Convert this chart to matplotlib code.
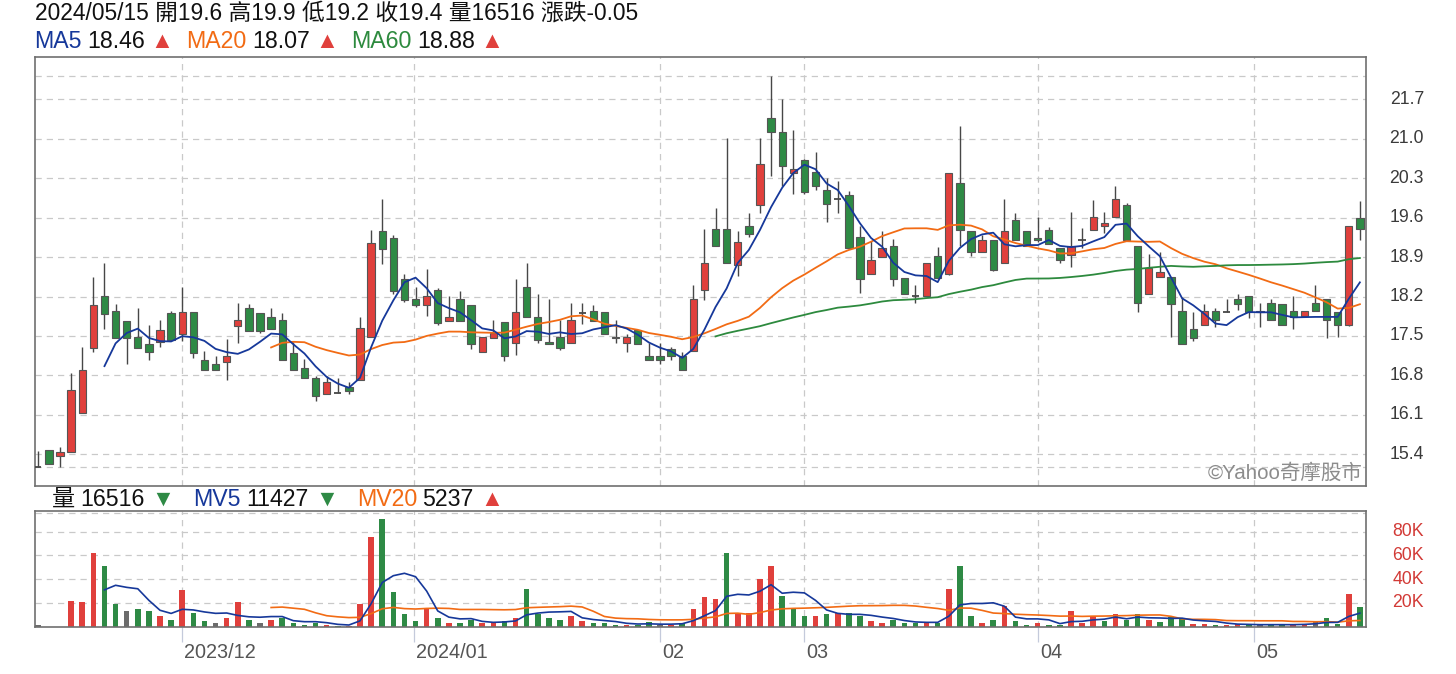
import numpy as np
import pandas as pd
import matplotlib
matplotlib.use("Agg")
import matplotlib.pyplot as plt
import matplotlib.transforms as mtransforms
from matplotlib.patches import Rectangle

# ---------------- daily quotes (TWD) ----------------
opens = [
    15.18, 15.47, 15.37, 15.43, 16.13, 17.29, 18.21, 17.94, 17.76, 17.49,
    17.36, 17.39, 17.91, 17.54, 17.93, 17.08, 17.00, 17.04, 17.68, 18.00,
    17.90, 17.84, 17.79, 17.20, 16.93, 16.75, 16.47, 16.48, 16.60, 16.72,
    17.48, 19.36, 19.24, 18.51, 18.15, 18.05, 18.31, 17.77, 18.15, 18.05,
    17.22, 17.47, 17.75, 17.38, 18.37, 17.84, 17.39, 17.49, 17.38, 17.90,
    17.94, 17.93, 17.49, 17.38, 17.61, 17.15, 17.15, 17.26, 17.14, 17.23,
    18.31, 19.40, 19.40, 18.76, 19.46, 19.82, 21.37, 21.13, 20.40, 20.62,
    20.41, 20.10, 19.93, 20.01, 19.26, 18.60, 18.91, 19.10, 18.53, 18.21,
    18.21, 18.92, 18.60, 20.22, 19.37, 18.99, 19.21, 18.79, 19.56, 19.37,
    19.24, 19.38, 19.07, 18.94, 19.21, 19.39, 19.45, 19.61, 19.83, 19.10,
    18.24, 18.54, 18.55, 17.94, 17.63, 17.69, 17.94, 17.92, 18.15, 18.21,
    17.94, 18.09, 18.06, 17.94, 17.86, 18.09, 18.15, 17.92, 17.69, 19.60,
]
highs = [
    15.46, 15.47, 15.53, 16.85, 17.30, 18.54, 18.79, 18.06, 17.76, 18.00,
    17.70, 17.78, 17.94, 18.37, 17.93, 17.23, 17.14, 17.45, 18.09, 18.06,
    17.90, 18.00, 17.91, 17.39, 17.09, 16.79, 16.78, 16.75, 16.69, 17.84,
    19.39, 19.94, 19.30, 18.60, 18.37, 18.69, 18.35, 18.21, 18.30, 18.05,
    17.48, 17.78, 17.75, 18.51, 18.79, 18.25, 18.16, 17.78, 18.09, 18.09,
    18.05, 17.93, 17.78, 17.54, 17.61, 17.37, 17.37, 17.31, 17.22, 18.40,
    19.40, 19.77, 21.02, 19.37, 19.68, 21.02, 22.12, 21.71, 21.15, 20.65,
    20.77, 20.31, 20.26, 20.07, 19.46, 19.18, 19.37, 19.22, 18.53, 18.41,
    18.79, 19.08, 20.40, 21.23, 19.37, 19.29, 19.21, 19.94, 19.68, 19.37,
    19.62, 19.43, 19.07, 19.71, 19.41, 19.91, 19.71, 20.16, 19.86, 19.10,
    18.95, 18.99, 18.55, 18.19, 17.92, 18.06, 18.00, 18.15, 18.25, 18.21,
    18.09, 18.15, 18.06, 18.21, 17.94, 18.40, 18.15, 17.92, 19.45, 19.90,
]
lows = [
    15.18, 15.22, 15.17, 15.43, 16.13, 17.22, 17.62, 17.46, 17.00, 17.29,
    17.07, 17.31, 17.43, 17.41, 17.10, 16.90, 16.90, 16.71, 17.38, 17.58,
    17.55, 17.62, 17.07, 16.90, 16.76, 16.35, 16.47, 16.48, 16.46, 16.72,
    17.48, 18.77, 18.25, 18.10, 18.01, 17.86, 17.70, 17.77, 17.77, 17.26,
    17.22, 17.47, 17.06, 17.17, 17.83, 17.37, 17.35, 17.25, 17.38, 17.71,
    17.77, 17.54, 17.38, 17.22, 17.35, 17.08, 17.00, 17.08, 16.90, 17.23,
    18.13, 19.09, 18.79, 18.57, 19.26, 19.69, 20.34, 20.17, 20.03, 20.03,
    20.10, 19.53, 19.69, 19.06, 18.26, 18.60, 18.91, 18.39, 18.24, 18.09,
    18.19, 18.51, 18.58, 19.09, 18.92, 18.99, 18.66, 18.79, 19.21, 19.10,
    19.17, 19.13, 18.80, 18.73, 19.07, 19.39, 19.32, 19.61, 19.21, 17.93,
    18.24, 18.54, 17.49, 17.35, 17.41, 17.69, 17.65, 17.92, 17.96, 17.81,
    17.65, 17.78, 17.69, 17.63, 17.86, 17.94, 17.47, 17.49, 17.67, 19.20,
]
closes = [
    15.18, 15.22, 15.44, 16.54, 16.90, 18.05, 17.89, 17.46, 17.46, 17.29,
    17.22, 17.61, 17.43, 17.93, 17.19, 16.90, 16.90, 17.14, 17.78, 17.58,
    17.58, 17.63, 17.07, 16.90, 16.76, 16.44, 16.69, 16.48, 16.53, 17.64,
    19.15, 19.05, 18.29, 18.14, 18.05, 18.21, 17.73, 17.84, 17.77, 17.35,
    17.48, 17.55, 17.14, 17.93, 17.83, 17.43, 17.35, 17.28, 17.78, 17.90,
    17.77, 17.54, 17.47, 17.48, 17.35, 17.08, 17.08, 17.14, 16.90, 18.15,
    18.79, 19.09, 18.79, 19.16, 19.31, 20.56, 21.12, 20.51, 20.47, 20.05,
    20.16, 19.85, 19.93, 19.06, 18.51, 18.85, 19.07, 18.51, 18.24, 18.21,
    18.79, 18.53, 20.40, 19.39, 18.99, 19.21, 18.68, 19.37, 19.21, 19.10,
    19.21, 19.13, 18.85, 19.10, 19.21, 19.61, 19.51, 19.94, 19.21, 18.09,
    18.70, 18.64, 18.06, 17.35, 17.47, 17.94, 17.78, 17.92, 18.06, 17.92,
    17.92, 17.78, 17.69, 17.84, 17.94, 17.94, 17.78, 17.69, 19.45, 19.40,
]
# traded volume, thousands of shares
volumes_k = [
    1.4, 0.0, 0.0, 21.9, 20.5, 62.0, 50.8, 19.1, 13.2, 14.6,
    13.2, 9.0, 5.9, 30.6, 11.8, 4.8, 3.1, 7.3, 20.5, 5.9,
    3.1, 5.9, 7.3, 3.1, 1.7, 3.1, 1.7, 0.3, 0.3, 19.1,
    75.2, 90.9, 29.2, 10.4, 4.8, 14.6, 7.3, 3.1, 3.1, 5.9,
    3.1, 3.1, 4.8, 7.3, 31.7, 10.4, 7.3, 5.9, 9.0, 4.8,
    3.1, 3.1, 1.7, 1.7, 1.7, 3.9, 1.7, 1.7, 3.4, 14.6,
    24.7, 23.3, 62.0, 11.8, 11.8, 40.4, 50.8, 26.1, 16.0, 9.0,
    9.0, 10.4, 11.8, 11.8, 9.0, 4.8, 3.1, 5.9, 3.1, 3.1,
    3.1, 3.1, 31.7, 50.8, 9.0, 3.1, 5.9, 17.4, 4.8, 1.7,
    3.1, 1.7, 1.7, 13.2, 3.1, 9.0, 4.8, 10.4, 5.9, 10.4,
    6.0, 4.0, 8.5, 7.0, 2.6, 2.6, 1.5, 1.5, 2.6, 1.5,
    1.5, 1.5, 1.5, 2.6, 2.6, 4.2, 7.0, 1.9, 27.5, 16.516,
]

price_ticks = [15.4, 16.1, 16.8, 17.5, 18.2, 18.9, 19.6, 20.3, 21.0, 21.7]
volume_ticks = [20, 40, 60, 80]
volume_tick_labels = ["20K", "40K", "60K", "80K"]
# session index where each month begins
month_pos = [13, 33.85, 56, 69, 90, 109.45]
month_labels = ["2023/12", "2024/01", "02", "03", "04", "05"]

header_text = "2024/05/15 開19.6 高19.9 低19.2 收19.4 量16516 漲跌-0.05"
ma_legend = [("MA5", "18.46", "▲"), ("MA20", "18.07", "▲"), ("MA60", "18.88", "▲")]
vol_legend = [("量", "16516", "▼"), ("MV5", "11427", "▼"), ("MV20", "5237", "▲")]
watermark = "©Yahoo奇摩股市"

# ---------------- style ----------------
FAM = ["Liberation Sans", "Noto Sans CJK TC", "DejaVu Sans"]
plt.rcParams["font.family"] = FAM

RED = "#e0403c"
GREEN = "#2e8a45"
GRAY = "#6c6c6c"
BLUE = "#16389a"
ORANGE = "#f26b14"
MGREEN = "#2d8a3e"
GRID = "#c9c9c9"
FRAME = "#707070"
WICK = "#474747"
EDGE = "#555555"

W, H = 1456, 674
fig = plt.figure(figsize=(W / 100, H / 100), dpi=100)


def rect(x0, y0, x1, y1):
    return [x0 / W, 1 - y1 / H, (x1 - x0) / W, (y1 - y0) / H]


ax = fig.add_axes(rect(34.7, 56.7, 1366, 485.7))
axv = fig.add_axes(rect(34.7, 511, 1366, 626.7))

o = np.array(opens)
hi = np.array(highs)
lo = np.array(lows)
c = np.array(closes)
v = np.array(volumes_k)
n = len(c)
x = np.arange(n)


def trailing_mean(values, window, first=2):
    s = pd.Series(values, dtype=float)
    out = pd.Series(np.nan, index=s.index)
    out.iloc[first:] = s.iloc[first:].rolling(window).mean()
    return out.to_numpy()


XMIN, XMAX = -0.28, 119.55

# ---------------- price panel ----------------
dash = dict(color=GRID, lw=0.9, dashes=(5, 4), zorder=0)
for t in price_ticks + [hi.max(), lo.min()]:
    ax.axhline(t, **dash)
for m in month_pos:
    ax.axvline(m, **dash)

ax.vlines(x, lo, hi, colors=WICK, lw=1.0, zorder=2)
bw = 0.66
for i in range(n):
    if c[i] == o[i]:
        ax.hlines(c[i], i - bw / 2, i + bw / 2, colors=WICK, lw=1.3, zorder=3)
        continue
    col = RED if c[i] > o[i] else GREEN
    ax.add_patch(Rectangle((i - bw / 2, min(o[i], c[i])), bw, abs(c[i] - o[i]),
                           facecolor=col, edgecolor=EDGE, lw=0.8, zorder=3))

ax.plot(x, trailing_mean(c, 5), color=BLUE, lw=1.3, zorder=5)
ax.plot(x, trailing_mean(c, 20), color=ORANGE, lw=1.3, zorder=4)
ax.plot(x, trailing_mean(c, 60), color=MGREEN, lw=1.3, zorder=4)

ax.set_xlim(XMIN, XMAX)
ax.set_ylim(14.84, 22.46)
ax.set_xticks([])
ax.set_yticks([])

ylab = mtransforms.blended_transform_factory(fig.transFigure, ax.transData)
for t in price_ticks:
    ax.text(1424 / W, t, f"{t:.1f}", transform=ylab, ha="right", va="center",
            fontsize=12.7, color="#3a3a3a", clip_on=False)

fig.text(1363 / W, 1 - 473 / H, watermark, ha="right", va="center",
         fontsize=14.8, color="#8c8c8c")

# ---------------- volume panel ----------------
vmax = v.max() * 1.05
for t in volume_ticks + [vmax]:
    axv.axhline(t, **dash)
for m in month_pos:
    axv.axvline(m, **dash)

prev = np.concatenate([[c[0]], c[:-1]])
vcols = [GRAY if i == 0 or c[i] == prev[i] else (RED if c[i] > prev[i] else GREEN)
         for i in range(n)]
axv.bar(x, v, width=0.5, color=vcols, zorder=2)
axv.plot(x, trailing_mean(v, 5), color=BLUE, lw=1.2, zorder=4)
axv.plot(x, trailing_mean(v, 20), color=ORANGE, lw=1.2, zorder=3)

axv.set_xlim(XMIN, XMAX)
axv.set_ylim(0, 97.4)
axv.set_yticks([])
axv.set_xticks(month_pos)
axv.set_xticklabels([""] * len(month_pos))
axv.tick_params(axis="x", length=11, width=0.9, color="#c4cadb", direction="out")

vlab = mtransforms.blended_transform_factory(fig.transFigure, axv.transData)
for t, lab in zip(volume_ticks, volume_tick_labels):
    axv.text(1424 / W, t, lab, transform=vlab, ha="right", va="center",
             fontsize=12.7, color="#d23a36", clip_on=False)

dlab = mtransforms.blended_transform_factory(axv.transData, fig.transFigure)
for m, lab in zip(month_pos, month_labels):
    axv.annotate(lab, xy=(m, 1 - 652 / H), xycoords=dlab, xytext=(1.5, 0),
                 textcoords="offset points", ha="left", va="center",
                 fontsize=14.3, color="#555555", annotation_clip=False)

for a in (ax, axv):
    for s in a.spines.values():
        s.set_color(FRAME)
        s.set_linewidth(1.2)

# ---------------- header texts ----------------
renderer = fig.canvas.get_renderer()


def chain(x0, y, parts, size):
    cur = x0
    for text, color, gap in parts:
        cur += gap
        t = fig.text(cur / W, 1 - y / H, text, color=color, fontsize=size,
                     ha="left", va="center")
        cur = t.get_window_extent(renderer).x1


fig.text(35 / W, 1 - 12.5 / H, header_text, fontsize=16.4, color="#111111",
         ha="left", va="center")

ma_cols = [BLUE, ORANGE, MGREEN]
parts = []
for k, ((name, val, arrow), col) in enumerate(zip(ma_legend, ma_cols)):
    parts += [(name, col, 0 if k == 0 else 13), (val, "#111111", 6),
              (arrow, RED if arrow == "▲" else GREEN, 5)]
chain(34, 41, parts, 16.7)

vcol_names = ["#111111", BLUE, ORANGE]
parts = []
for k, ((name, val, arrow), col) in enumerate(zip(vol_legend, vcol_names)):
    parts += [(name, col, 0 if k == 0 else 19), (val, "#111111", 5),
              (arrow, RED if arrow == "▲" else GREEN, 7)]
chain(52, 499, parts, 16.7)

fig.savefig("out.png", dpi=100)
